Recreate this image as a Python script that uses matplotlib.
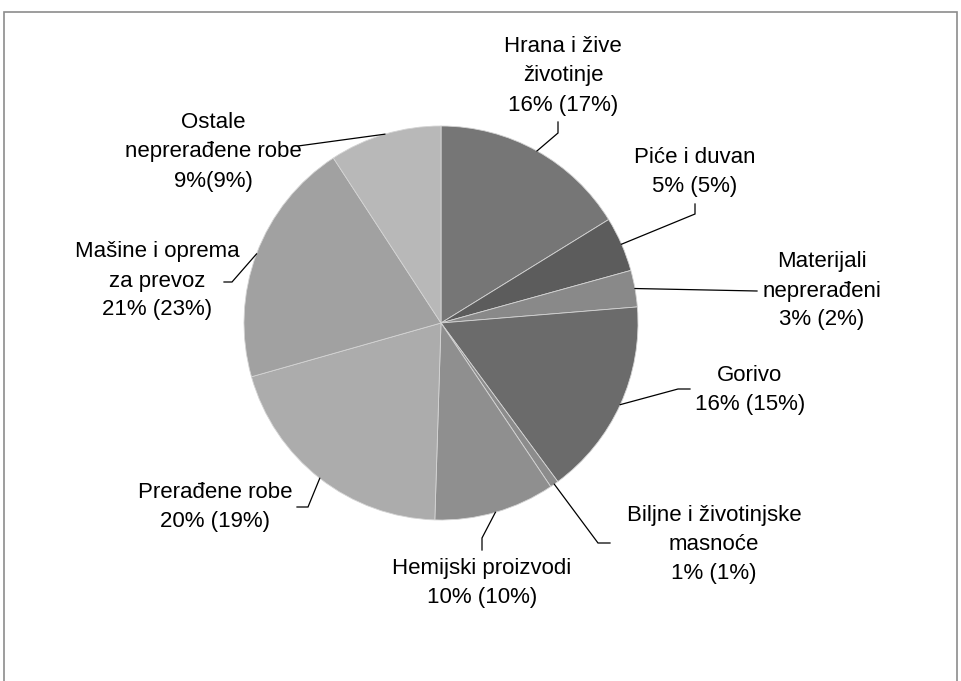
import numpy as np
import matplotlib
matplotlib.use("Agg")
import matplotlib.pyplot as plt

# ---- data ----
names = ["Hrana i žive\nživotinje", "Piće i duvan", "Materijali\nneprerađeni",
         "Gorivo", "Biljne i životinjske\nmasnoće", "Hemijski proizvodi",
         "Prerađene robe", "Mašine i oprema\nza prevoz", "Ostale\nneprerađene robe"]
values = [16.2, 4.5, 3.0, 16.2, 0.7, 9.9, 20.1, 20.2, 9.2]
pct_labels = ["16% (17%)", "5% (5%)", "3% (2%)", "16% (15%)", "1% (1%)",
              "10% (10%)", "20% (19%)", "21% (23%)", "9%(9%)"]
colors = ["#767676", "#5c5c5c", "#898989", "#6b6b6b", "#8c8c8c",
          "#8f8f8f", "#acacac", "#a1a1a1", "#b8b8b8"]

# ---- layout (pixel coordinates, y downward) ----
W, H = 961, 681
CX, CY, R = 441, 323, 197
text_pos = [(563, 76), (695, 172), (822, 291), (750, 390), (714, 545),
            (482, 583), (215, 507), (157, 281), (213, 152)]
leader_pts = [[(558, 133), (558, 122)],
              [(695, 214), (695, 204)],
              [(757, 291)],
              [(678, 389), (690, 389)],
              [(598, 543), (610, 543)],
              [(482, 538), (482, 550)],
              [(308, 507), (297, 507)],
              [(232, 282), (224, 282)],
              [(298, 146)]]

plt.rcParams['font.family'] = ['Liberation Sans', 'DejaVu Sans']

fig = plt.figure(figsize=(W / 100, H / 100), dpi=100)
ax = fig.add_axes([0, 0, 1, 1])

def fy(y):
    return H - y

wedges, _ = ax.pie(values, colors=colors, startangle=90, counterclock=False,
                   center=(CX, fy(CY)), radius=R, frame=True,
                   wedgeprops=dict(edgecolor='#d4d4d4', linewidth=0.6))
ax.set_xlim(0, W)
ax.set_ylim(0, H)
ax.set_aspect('equal')
ax.axis('off')

total = sum(values)
cum = 0
for i, v in enumerate(values):
    mid = (cum + v / 2) / total * 360.0
    cum += v
    th = np.deg2rad(mid)
    px = CX + R * np.sin(th)
    py = CY - R * np.cos(th)
    pts = [(px, py)] + leader_pts[i]
    ax.plot([p[0] for p in pts], [fy(p[1]) for p in pts], color='black', lw=0.9,
            solid_joinstyle='miter')
    tx, ty = text_pos[i]
    ax.text(tx, fy(ty), names[i] + "\n" + pct_labels[i], ha='center', va='center',
            multialignment='center', fontsize=16, linespacing=1.5, color='black')

# frame
ax.plot([4, 4, 957, 957], [0, fy(12), fy(12), 0], color='#8c8c8c', lw=1.2,
        solid_joinstyle='miter')

fig.savefig("out.png", dpi=100)
